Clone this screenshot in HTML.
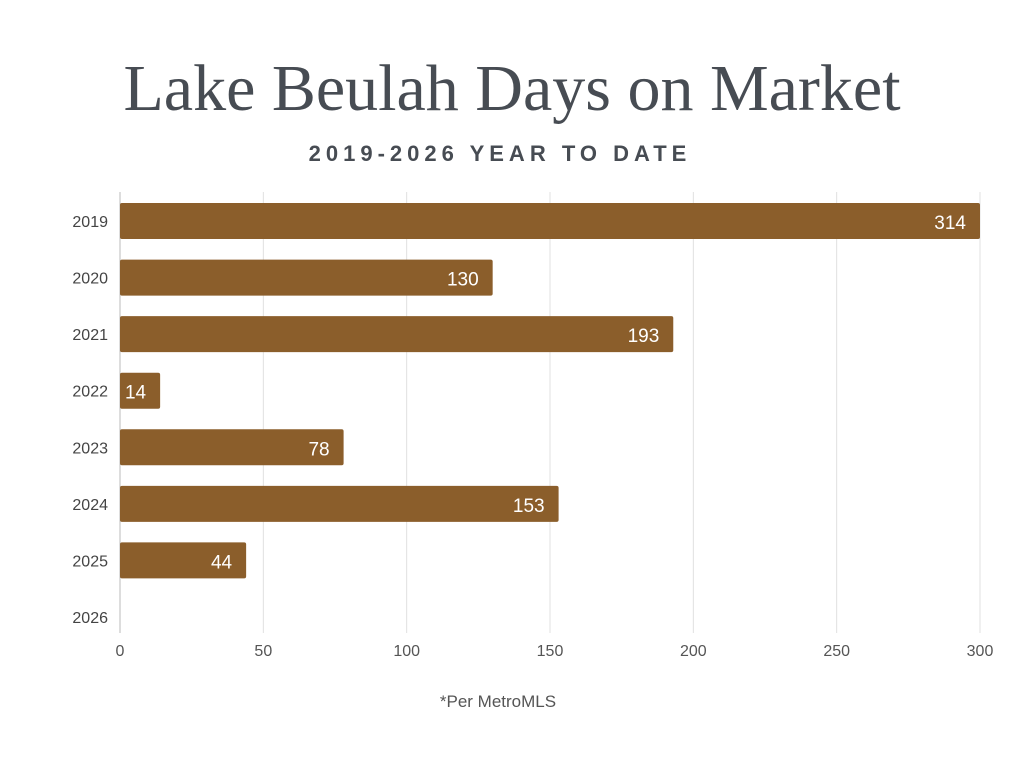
<!DOCTYPE html>
<html><head><meta charset="utf-8">
<style>
html,body{margin:0;padding:0;background:#fff;}
body{width:1024px;height:768px;overflow:hidden;}
</style></head>
<body>
<svg id="chart" width="1024" height="768" viewBox="0 0 1024 768" xmlns="http://www.w3.org/2000/svg">
<text x="512" y="110" text-anchor="middle" font-family="'Liberation Serif', serif" font-size="66" fill="#474c53">Lake Beulah Days on Market</text>
<text x="500" y="161" text-anchor="middle" font-family="'Liberation Sans', sans-serif" font-size="22" font-weight="600" letter-spacing="5" fill="#474c53">2019-2026 YEAR TO DATE</text>
<g id="grid"></g>
<g id="bars"></g>
<g id="labels"></g>
<text x="498" y="707" text-anchor="middle" font-family="'Liberation Sans', sans-serif" font-size="17" fill="#555">*Per MetroMLS</text>
</svg>
<script>
const categories = ["2019","2020","2021","2022","2023","2024","2025","2026"];
const values = [314,130,193,14,78,153,44,null];
const xTicks = [0,50,100,150,200,250,300];
const NS="http://www.w3.org/2000/svg";
const x0=120,x1=980,xMax=300,yTop=221,step=56.57,barH=36;
function xs(v){return x0+(Math.min(v,xMax)/xMax)*(x1-x0);}
function ys(i){return yTop+i*step;}
function mk(tag,attrs,parent){const e=document.createElementNS(NS,tag);for(const k in attrs)e.setAttribute(k,attrs[k]);parent.appendChild(e);return e;}
const grid=document.getElementById('grid'),bars=document.getElementById('bars'),labels=document.getElementById('labels');
xTicks.forEach(t=>{
  const l=mk('line',{x1:xs(t),x2:xs(t),y1:192,y2:633,stroke:t===0?'#bbb':'#e0e0e0','stroke-width':1},grid);
  
  
  const tx=mk('text',{x:xs(t),y:656,'text-anchor':'middle','font-family':"'Liberation Sans', sans-serif",'font-size':16,fill:'#555'},grid);
  tx.textContent=t;
  
  
});
categories.forEach((c,i)=>{
  const y=ys(i);
  const cl=mk('text',{x:108,y:y+6,'text-anchor':'end','font-family':"'Liberation Sans', sans-serif",'font-size':16,fill:'#444'},labels);
  cl.textContent=c;
  
  
  const v=values[i];
  if(v==null)return;
  const r=mk('rect',{x:x0,y:y-barH/2,width:xs(v)-x0,height:barH,rx:2,fill:'#8b5e2b'},bars);
  
  
  const vt=mk('text',{x:Math.max(xs(v)-14,x0+26),y:y+8,'text-anchor':'end','font-family':"'Liberation Sans', sans-serif",'font-size':19,fill:'#fff'},bars);
  vt.textContent=v;
  
  
});
</script>
</body></html>
